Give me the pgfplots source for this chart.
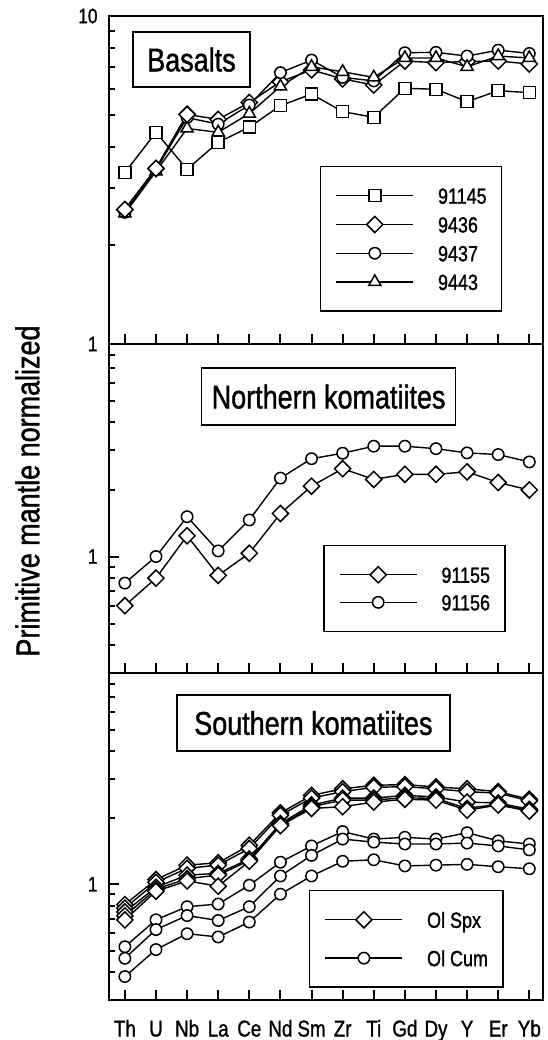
\documentclass[border=0pt]{standalone}
\usepackage{pgfplots}
\pgfplotsset{compat=1.18}
\usepackage{fontspec}
\setmainfont{Liberation Sans}[FakeStretch=0.82, FakeBold=1.2]
\newcommand{\fsz}[1]{\fontsize{#1}{#1}\selectfont}

\tikzset{
  lnp/.style={black, line width=1.4bp},
  msq/.style={lnp, mark=square*, mark size=6bp, mark options={fill=white, solid, line width=1.5bp}},
  mdm/.style={lnp, mark=square*, mark size=5.7bp, mark options={rotate=45, fill=white, solid, line width=1.5bp}},
  mci/.style={lnp, mark=*, mark size=5.7bp, mark options={fill=white, solid, line width=1.5bp}},
  mtr/.style={lnp, mark=triangle*, mark size=7bp, mark options={fill=white, solid, line width=1.5bp}},
  ttlbox/.style={draw, line width=1.4bp, fill=white, inner sep=0pt, font=\fsz{33}},
  legbox/.style={draw=black, line width=1.4bp, fill=white,
      inner xsep=15bp, inner ysep=21bp, font=\fsz{22},
      nodes={inner sep=0pt, text height=16bp, text depth=0bp, font=\fsz{22}},
      anchor=north west},
}

\pgfplotsset{
  legend image code/.code={
    \draw[mark repeat=2,mark phase=2] plot coordinates {(0bp,0bp) (38.5bp,0bp) (77bp,0bp)};
    \path (101bp,0bp);
  },
}

\begin{document}
\begin{tikzpicture}
\useasboundingbox (0,0) rectangle (548bp,-1040bp);

% Basalts
\begin{semilogyaxis}[scale only axis, width=434bp, height=328bp,
  at={(109bp,-344bp)}, anchor=south west,
  xmin=-0.51, xmax=13.44,
  axis line style={line width=2.5bp},
  tick style={black, line width=2bp},
  tick align=inside,
  xtick={0,...,13}, xticklabels={},
  xtick pos=left, ytick pos=left,
  major tick length=10bp, minor tick length=6bp,
  yticklabel style={font=\fsz{21}, xshift=-8bp},
  clip=false,
  legend cell align=left,
  ymin=1, ymax=10, ytick={1,10}, yticklabels={1,10}, minor ytick={2,3,4,5,6,7,8,9},
  legend style={legbox, at={(axis description cs:0.486,0.5427)}, row sep=12.7bp}]
\addplot[msq] coordinates {(0,3.33) (1,4.42) (2,3.41) (3,4.12) (4,4.58) (5,5.33) (6,5.78) (7,5.11) (8,4.91) (9,6.02) (10,5.98) (11,5.48) (12,5.92) (13,5.84)};
\addlegendentry{91145}
\addplot[mdm] coordinates {(0,2.57) (1,3.43) (2,5.01) (3,4.84) (4,5.45) (5,6.30) (6,6.85) (7,6.43) (8,6.16) (9,7.29) (10,7.21) (11,7.27) (12,7.29) (13,7.14)};
\addlegendentry{9436}
\addplot[mci] coordinates {(0,2.52) (1,3.40) (2,4.90) (3,4.68) (4,5.35) (5,6.72) (6,7.34) (7,6.50) (8,6.34) (9,7.73) (10,7.75) (11,7.55) (12,7.87) (13,7.69)};
\addlegendentry{9437}
\addplot[mtr] coordinates {(0,2.50) (1,3.36) (2,4.54) (3,4.42) (4,5.04) (5,6.10) (6,7.00) (7,6.76) (8,6.50) (9,7.45) (10,7.45) (11,7.00) (12,7.55) (13,7.45)};
\addlegendentry{9443}
\addplot[mdm, forget plot] coordinates {(0,2.57) (1,3.43) (2,5.01)};
\node[ttlbox, minimum width=117bp, minimum height=55bp] at (axis description cs:0.190,0.867) {Basalts};
\end{semilogyaxis}

% Northern komatiites
\begin{semilogyaxis}[scale only axis, width=434bp, height=329bp,
  at={(109bp,-673bp)}, anchor=south west,
  xmin=-0.51, xmax=13.44,
  axis line style={line width=2.5bp},
  tick style={black, line width=2bp},
  tick align=inside,
  xtick={0,...,13}, xticklabels={},
  xtick pos=left, ytick pos=left,
  major tick length=10bp, minor tick length=6bp,
  yticklabel style={font=\fsz{21}, xshift=-8bp},
  clip=false,
  legend cell align=left,
  ymin=0.3, ymax=9, ytick={1}, yticklabels={1},
  minor ytick={0.4,0.5,0.6,0.7,0.8,0.9,2,3,4,5,6,7,8},
  legend style={legbox, at={(axis description cs:0.4938,0.389)}, row sep=11.5bp}]
\addplot[mdm] coordinates {(0,0.602) (1,0.80) (2,1.24) (3,0.823) (4,1.035) (5,1.56) (6,2.07) (7,2.48) (8,2.22) (9,2.34) (10,2.34) (11,2.40) (12,2.15) (13,1.99)};
\addlegendentry{91155}
\addplot[mci] coordinates {(0,0.760) (1,1.00) (2,1.51) (3,1.06) (4,1.46) (5,2.25) (6,2.75) (7,2.91) (8,3.13) (9,3.13) (10,3.05) (11,2.92) (12,2.87) (13,2.66)};
\addlegendentry{91156}
\node[ttlbox, minimum width=254bp, minimum height=57bp] at (axis description cs:0.506,0.840) {Northern komatiites};
\end{semilogyaxis}

% Southern komatiites
\begin{semilogyaxis}[scale only axis, width=434bp, height=327bp,
  at={(109bp,-1000bp)}, anchor=south west,
  xmin=-0.51, xmax=13.44,
  axis line style={line width=2.5bp},
  tick style={black, line width=2bp},
  tick align=inside,
  xtick={0,...,13},
  xticklabels={Th,U,Nb,La,Ce,Nd,Sm,Zr,Ti,Gd,Dy,Y,Er,Yb},
  xticklabel style={font=\fsz{23}, text height=17bp, text depth=0bp, yshift=-16bp},
  xtick pos=left, ytick pos=left,
  major tick length=10bp, minor tick length=6bp,
  yticklabel style={font=\fsz{21}, xshift=-8bp},
  clip=false,
  legend cell align=left,
  ymin=0.3, ymax=9, ytick={1}, yticklabels={1},
  minor ytick={0.4,0.5,0.6,0.7,0.8,0.9,2,3,4,5,6,7,8},
  legend style={legbox, at={(axis description cs:0.4608,0.3364)}, row sep=22.3bp}]
\addplot[mdm] coordinates {(0,0.81) (1,1.05) (2,1.22) (3,1.25) (4,1.50) (5,2.10) (6,2.52) (7,2.70) (8,2.80) (9,2.82) (10,2.75) (11,2.70) (12,2.62) (13,2.42)};
\addlegendentry{Ol Spx}
\addplot[mdm, forget plot] coordinates {(0,0.78) (1,1.02) (2,1.18) (3,1.22) (4,1.45) (5,2.05) (6,2.45) (7,2.62) (8,2.74) (9,2.76) (10,2.70) (11,2.62) (12,2.58) (13,2.38)};
\addplot[mdm, forget plot] coordinates {(0,0.75) (1,0.97) (2,1.10) (3,1.12) (4,1.30) (5,1.88) (6,2.28) (7,2.45) (8,2.45) (9,2.52) (10,2.48) (11,2.35) (12,2.33) (13,2.18)};
\addplot[mdm, forget plot] coordinates {(0,0.72) (1,0.95) (2,1.06) (3,1.10) (4,1.28) (5,1.85) (6,2.24) (7,2.40) (8,2.40) (9,2.46) (10,2.44) (11,2.20) (12,2.30) (13,2.15)};
\addplot[mdm, forget plot] coordinates {(0,0.69) (1,0.93) (2,1.035) (3,0.98) (4,1.27) (5,1.84) (6,2.20) (7,2.24) (8,2.35) (9,2.42) (10,2.40) (11,2.16) (12,2.28) (13,2.14)};
\addplot[mci] coordinates {(0,0.522) (1,0.691) (2,0.792) (3,0.814) (4,0.99) (5,1.258) (6,1.49) (7,1.73) (8,1.60) (9,1.63) (10,1.60) (11,1.71) (12,1.57) (13,1.52)};
\addlegendentry{Ol Cum}
\addplot[mci, forget plot] coordinates {(0,0.463) (1,0.624) (2,0.722) (3,0.686) (4,0.792) (5,1.09) (6,1.35) (7,1.60) (8,1.55) (9,1.52) (10,1.52) (11,1.535) (12,1.49) (13,1.43)};
\addplot[mci, forget plot] coordinates {(0,0.383) (1,0.507) (2,0.598) (3,0.578) (4,0.675) (5,0.902) (6,1.09) (7,1.27) (8,1.29) (9,1.21) (10,1.22) (11,1.23) (12,1.20) (13,1.175)};
\node[ttlbox, minimum width=273bp, minimum height=56bp] at (axis description cs:0.471,0.847) {Southern komatiites};
\end{semilogyaxis}

\node[rotate=90, font=\fsz{33}, inner sep=0pt] at (27.5bp,-491bp) {Primitive mantle normalized};
\end{tikzpicture}
\end{document}
